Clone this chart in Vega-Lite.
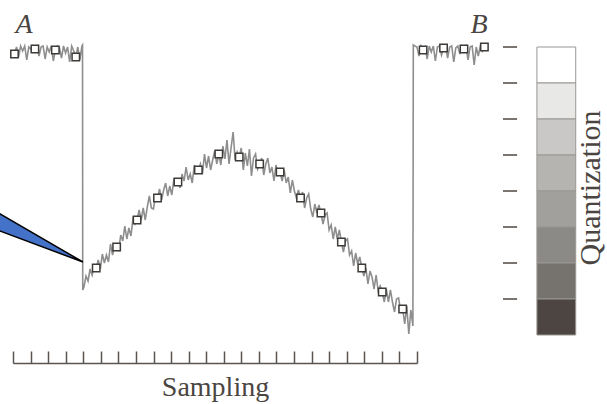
{
  "$schema": "https://vega.github.io/schema/vega-lite/v6.json",
  "width": 404,
  "height": 323,
  "autosize": "none",
  "padding": {"left": 13, "top": 40, "right": 190, "bottom": 41},
  "background": "white",
  "config": {"view": {"stroke": null}},
  "datasets": {
    "ticks": [{"j":0},{"j":1},{"j":2},{"j":3},{"j":4},{"j":5},{"j":6},{"j":7},{"j":8},{"j":9},{"j":10},{"j":11},{"j":12},{"j":13},{"j":14},{"j":15},{"j":16},{"j":17},{"j":18},{"j":19},{"j":20},{"j":21},{"j":22},{"j":23}],
    "profile": [
      {"p":-1,"g":283},{"p":0,"g":281},{"p":1,"g":288},{"p":2,"g":278},{"p":3,"g":289},{"p":4,"g":284},{"p":5,"g":289},{"p":6,"g":275},{"p":7,"g":288},{"p":8,"g":286},{"p":9,"g":289},{"p":10,"g":286},{"p":11,"g":289},{"p":12,"g":279},{"p":13,"g":288},{"p":14,"g":289},{"p":15,"g":276},{"p":16,"g":288},{"p":17,"g":283},{"p":18,"g":289},{"p":19,"g":274},{"p":20,"g":285},{"p":21,"g":289},{"p":22,"g":287},{"p":23,"g":277},{"p":24,"g":289},{"p":25,"g":282},{"p":26,"g":288},{"p":27,"g":273},{"p":28,"g":289},{"p":29,"g":284},{"p":30,"g":278},{"p":31,"g":288},{"p":32,"g":275},{"p":33,"g":289},{"p":33.3,"g":290},{"p":33.4,"g":45},
      {"p":34,"g":48},{"p":35,"g":59},{"p":36,"g":54},{"p":37,"g":66},{"p":38,"g":60},{"p":39,"g":69},{"p":40,"g":67},{"p":41,"g":75},{"p":42,"g":66},{"p":43,"g":81},{"p":44,"g":72},{"p":45,"g":80},{"p":46,"g":73},{"p":47,"g":91},{"p":48,"g":80},{"p":49,"g":89},
      {"p":50,"g":88},{"p":51,"g":85},{"p":52,"g":100},{"p":53,"g":94},{"p":54,"g":109},{"p":55,"g":96},{"p":56,"g":107},{"p":57,"g":99},{"p":58,"g":116},{"p":59,"g":111},
      {"p":60,"g":115},{"p":61,"g":125},{"p":62,"g":115},{"p":63,"g":127},{"p":64,"g":115},{"p":65,"g":128},{"p":66,"g":139},{"p":67,"g":127},{"p":68,"g":126},{"p":69,"g":139},
      {"p":70,"g":137},{"p":71,"g":146},{"p":72,"g":135},{"p":73,"g":145},{"p":74,"g":152},{"p":75,"g":139},{"p":76,"g":149},{"p":77,"g":140},{"p":78,"g":155},{"p":79,"g":152},
      {"p":80,"g":153},{"p":81,"g":147},{"p":82,"g":161},{"p":83,"g":154},{"p":84,"g":168},{"p":85,"g":155},{"p":86,"g":161},{"p":87,"g":152},{"p":88,"g":170},{"p":89,"g":162},
      {"p":90,"g":165},{"p":91,"g":171},{"p":92,"g":161},{"p":93,"g":181},{"p":94,"g":167},{"p":95,"g":179},{"p":96,"g":165},{"p":97,"g":175},{"p":98,"g":184},{"p":99,"g":171},
      {"p":100,"g":181},{"p":101,"g":170},{"p":102,"g":189},{"p":103,"g":176},{"p":104,"g":195},{"p":105,"g":171},{"p":106,"g":187},{"p":107,"g":203},{"p":108,"g":175},{"p":109,"g":183},
      {"p":110,"g":178},{"p":111,"g":187},{"p":112,"g":165},{"p":113,"g":182},{"p":114,"g":169},{"p":115,"g":186},{"p":116,"g":159},{"p":117,"g":177},{"p":118,"g":181},{"p":119,"g":166},
      {"p":120,"g":171},{"p":121,"g":177},{"p":122,"g":160},{"p":123,"g":171},{"p":124,"g":177},{"p":125,"g":162},{"p":126,"g":168},{"p":127,"g":154},{"p":128,"g":170},{"p":129,"g":160},
      {"p":130,"g":163},{"p":131,"g":154},{"p":132,"g":165},{"p":133,"g":152},{"p":134,"g":158},{"p":135,"g":142},{"p":136,"g":155},{"p":137,"g":144},{"p":138,"g":137},{"p":139,"g":145},
      {"p":140,"g":137},{"p":141,"g":143},{"p":142,"g":127},{"p":143,"g":137},{"p":144,"g":141},{"p":145,"g":126},{"p":146,"g":118},{"p":147,"g":131},{"p":148,"g":122},{"p":149,"g":130},
      {"p":150,"g":122},{"p":151,"g":111},{"p":152,"g":120},{"p":153,"g":122},{"p":154,"g":105},{"p":155,"g":110},{"p":156,"g":96},{"p":157,"g":108},{"p":158,"g":96},{"p":159,"g":105},
      {"p":160,"g":93},{"p":161,"g":83},{"p":162,"g":94},{"p":163,"g":96},{"p":164,"g":80},{"p":165,"g":84},{"p":166,"g":69},{"p":167,"g":82},{"p":168,"g":71},{"p":169,"g":78},
      {"p":170,"g":67},{"p":171,"g":59},{"p":172,"g":67},{"p":173,"g":51},{"p":174,"g":64},{"p":175,"g":58},{"p":176,"g":46},{"p":177,"g":60},{"p":178,"g":44},{"p":179,"g":49},
      {"p":180,"g":43},{"p":181,"g":33},{"p":182,"g":46},{"p":183,"g":33},{"p":184,"g":45},{"p":185,"g":33},{"p":186,"g":23},{"p":187,"g":36},{"p":188,"g":37},{"p":189,"g":24},
      {"p":190,"g":26},{"p":191,"g":11},{"p":192,"g":29},{"p":193,"g":1},{"p":194,"g":25},{"p":195,"g":9},{"p":195.2,"g":290},
      {"p":196,"g":289},{"p":197,"g":288},{"p":198,"g":279},{"p":199,"g":289},{"p":200,"g":285},{"p":201,"g":288},{"p":202,"g":276},{"p":203,"g":289},{"p":204,"g":283},{"p":205,"g":289},{"p":206,"g":274},{"p":207,"g":288},{"p":208,"g":289},{"p":209,"g":280},{"p":210,"g":287},{"p":211,"g":289},{"p":212,"g":277},{"p":213,"g":288},{"p":214,"g":289},{"p":215,"g":273},{"p":216,"g":287},{"p":217,"g":289},{"p":218,"g":281},{"p":219,"g":289},{"p":220,"g":286},{"p":221,"g":289},{"p":222,"g":275},{"p":223,"g":288},{"p":224,"g":289},{"p":225,"g":270},{"p":226,"g":288},{"p":227,"g":279},{"p":228,"g":289},{"p":229,"g":284},{"p":230,"g":288},{"p":231,"g":289}
    ],
    "samples": [
      {"p":0,"g":281},{"p":10,"g":286},{"p":20,"g":285},{"p":30,"g":278},{"p":40,"g":67},{"p":50,"g":88},{"p":60,"g":115},{"p":70,"g":137},{"p":80,"g":153},{"p":90,"g":165},{"p":100,"g":181},{"p":110,"g":178},{"p":120,"g":171},{"p":130,"g":163},{"p":140,"g":137},{"p":150,"g":122},{"p":160,"g":93},{"p":170,"g":67},{"p":180,"g":43},{"p":190,"g":26},{"p":200,"g":285},{"p":210,"g":287},{"p":220,"g":286},{"p":230,"g":288}
    ],
    "wedge": [{"p":-10,"g":124.5,"g2":106.2},{"p":33.5,"g":73,"g2":73}],
    "bands": [
      {"level":1,"lo":252,"hi":288},{"level":2,"lo":216,"hi":252},{"level":3,"lo":180,"hi":216},{"level":4,"lo":144,"hi":180},
      {"level":5,"lo":108,"hi":144},{"level":6,"lo":72,"hi":108},{"level":7,"lo":36,"hi":72},{"level":8,"lo":0,"hi":36}
    ],
    "qticks": [{"q":288},{"q":252},{"q":216},{"q":180},{"q":144},{"q":108},{"q":72},{"q":36}],
    "labels": [{"t":"A","p":4.65,"g":302},{"t":"B","p":227.4,"g":302}],
    "qlabel": [{"t":"Quantization","p":286.6,"g":147}]
  },
  "layer": [
    {
      "data": {"name": "ticks"},
      "mark": {"type": "rule", "opacity": 0},
      "encoding": {
        "x": {
          "field": "j", "type": "quantitative",
          "scale": {"domain": [0, 23], "nice": false, "zero": false},
          "axis": {
            "values": [0,1,2,3,4,5,6,7,8,9,10,11,12,13,14,15,16,17,18,19,20,21,22,23],
            "labels": false, "grid": false,
            "tickSize": -12, "tickWidth": 1.5, "tickColor": "#5a5550",
            "domainColor": "#5a5550", "domainWidth": 1.5,
            "title": "Sampling", "titleFont": "Liberation Serif", "titleFontSize": 28,
            "titleFontWeight": "normal", "titleColor": "#4b4541",
            "titleX": 202, "titleY": 32, "titleBaseline": "alphabetic", "titleAlign": "center"
          }
        }
      }
    },
    {
      "layer": [
        {
          "data": {"name": "bands"},
          "mark": {"type": "rect", "stroke": "#9a9794", "strokeWidth": 1, "clip": false},
          "encoding": {
            "x": {"datum": 255.7, "type": "quantitative", "scale": {"domain": [-0.73, 197.01], "nice": false, "zero": false}, "axis": null},
            "x2": {"datum": 274.7},
            "y": {"field": "hi", "type": "quantitative", "scale": {"domain": [-28, 295], "nice": false, "zero": false}, "axis": null},
            "y2": {"field": "lo"},
            "fill": {"field": "level", "type": "ordinal", "legend": null,
              "scale": {"domain": [1,2,3,4,5,6,7,8], "range": ["#ffffff","#e8e8e7","#c9c8c6","#b5b4b1","#a2a09d","#8c8a87","#76736f","#4c4541"]}}
          }
        },
        {
          "data": {"name": "qticks"},
          "mark": {"type": "rule", "color": "#6b6661", "strokeWidth": 1.8, "clip": false},
          "encoding": {
            "x": {"datum": 239.1, "type": "quantitative"},
            "x2": {"datum": 246},
            "y": {"field": "q", "type": "quantitative"}
          }
        },
        {
          "data": {"name": "profile"},
          "mark": {"type": "line", "color": "#8e8e8e", "strokeWidth": 1.6, "clip": false},
          "encoding": {
            "x": {"field": "p", "type": "quantitative"},
            "y": {"field": "g", "type": "quantitative"}
          }
        },
        {
          "data": {"name": "wedge"},
          "mark": {"type": "area", "color": "#4472c8", "stroke": "#000000", "strokeWidth": 1.5, "clip": false, "opacity": 1},
          "encoding": {
            "x": {"field": "p", "type": "quantitative"},
            "y": {"field": "g", "type": "quantitative"},
            "y2": {"field": "g2"}
          }
        },
        {
          "data": {"name": "samples"},
          "mark": {"type": "point", "shape": "square", "filled": false, "fill": "white", "fillOpacity": 1, "stroke": "#3d3a37", "strokeWidth": 1.5, "opacity": 1, "size": 55, "clip": false},
          "encoding": {
            "x": {"field": "p", "type": "quantitative"},
            "y": {"field": "g", "type": "quantitative"}
          }
        },
        {
          "data": {"name": "labels"},
          "mark": {"type": "text", "font": "Liberation Serif", "fontStyle": "italic", "fontSize": 28, "color": "#4b4541", "align": "center", "baseline": "alphabetic", "clip": false},
          "encoding": {
            "x": {"field": "p", "type": "quantitative"},
            "y": {"field": "g", "type": "quantitative"},
            "text": {"field": "t"}
          }
        },
        {
          "data": {"name": "qlabel"},
          "mark": {"type": "text", "font": "Liberation Serif", "fontSize": 30, "angle": 270, "color": "#4b4541", "align": "center", "baseline": "alphabetic", "clip": false},
          "encoding": {
            "x": {"field": "p", "type": "quantitative"},
            "y": {"field": "g", "type": "quantitative"},
            "text": {"field": "t"}
          }
        }
      ]
    }
  ],
  "resolve": {"scale": {"x": "independent"}, "axis": {"x": "independent"}}
}
